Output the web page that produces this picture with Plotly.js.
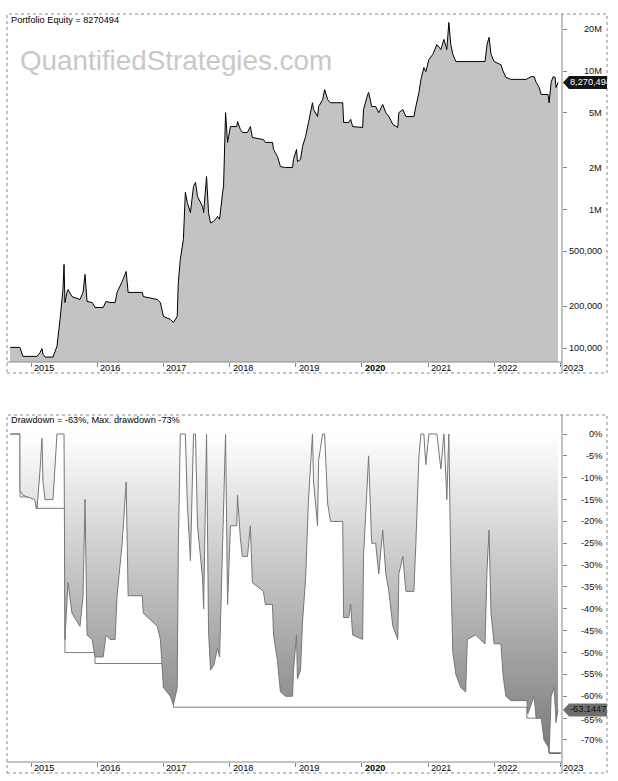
<!DOCTYPE html>
<html><head><meta charset="utf-8">
<script src="https://cdn.plot.ly/plotly-3.0.1.min.js"></script>
<style>html,body{margin:0;padding:0;background:#fff;overflow:hidden}#chart{width:618px;height:781px}</style>
</head><body><div id="chart"></div>
<script>
// ---------- data ----------
const equityDates = ['2014-09-07','2014-10-31','2014-11-17','2015-02-03','2015-02-20','2015-03-02','2015-03-08','2015-03-19','2015-05-02','2015-05-13','2015-05-24','2015-06-10','2015-06-26','2015-07-02','2015-07-07','2015-07-18','2015-07-24','2015-08-15','2015-09-28','2015-10-15','2015-10-26','2015-11-06','2015-12-04','2015-12-20','2016-02-03','2016-02-19','2016-03-12','2016-04-09','2016-04-20','2016-05-18','2016-06-09','2016-06-20','2016-09-06','2016-09-12','2016-11-28','2016-12-15','2017-01-01','2017-02-08','2017-02-25','2017-03-18','2017-03-24','2017-04-04','2017-04-21','2017-05-02','2017-05-13','2017-05-30','2017-06-16','2017-06-27','2017-07-08','2017-08-05','2017-08-11','2017-08-27','2017-09-07','2017-09-18','2017-10-05','2017-10-27','2017-11-07','2017-11-24','2017-11-29','2017-12-10','2017-12-21','2018-01-06','2018-02-10','2018-02-14','2018-03-02','2018-03-13','2018-04-10','2018-04-26','2018-05-07','2018-07-07','2018-07-18','2018-08-26','2018-09-01','2018-09-23','2018-10-09','2018-11-06','2018-12-15','2018-12-20','2019-01-06','2019-01-11','2019-01-28','2019-02-08','2019-02-25','2019-03-13','2019-04-04','2019-04-10','2019-05-02','2019-05-08','2019-05-30','2019-06-10','2019-06-27','2019-07-13','2019-09-18','2019-09-23','2019-10-21','2019-11-01','2019-11-12','2020-01-06','2020-01-11','2020-02-03','2020-02-08','2020-02-25','2020-03-18','2020-04-04','2020-04-26','2020-05-13','2020-05-30','2020-06-21','2020-07-18','2020-07-24','2020-08-15','2020-09-01','2020-10-15','2020-10-26','2020-11-12','2020-11-23','2020-12-09','2020-12-20','2021-01-06','2021-01-28','2021-02-19','2021-03-13','2021-03-30','2021-04-15','2021-04-26','2021-05-07','2021-05-18','2021-06-04','2021-11-12','2021-11-23','2021-12-04','2021-12-15','2022-01-01','2022-02-08','2022-02-19','2022-03-07','2022-04-04','2022-06-27','2022-07-24','2022-08-10','2022-08-21','2022-09-07','2022-09-18','2022-10-26','2022-11-01','2022-11-12','2022-11-23','2022-12-04','2022-12-09','2022-12-20'];
const equityValues = [101000,101000,87000,87000,93000,99000,90000,86000,86000,95000,103000,161000,264000,401000,213000,252000,264000,235000,224000,252000,340000,217000,213000,196000,196000,217000,213000,213000,252000,302000,357000,252000,252000,235000,224000,213000,169000,161000,153000,169000,297000,435000,607000,1330000,1120000,950000,1470000,1570000,1240000,1050000,950000,1730000,950000,800000,820000,890000,850000,1330000,1470000,5000000,3050000,3970000,3970000,4320000,3780000,3600000,3600000,3970000,3310000,3200000,3050000,3050000,2710000,2410000,2040000,2010000,2010000,2300000,2710000,2220000,2300000,2850000,3370000,4250000,5900000,5270000,4690000,5540000,6200000,7350000,6200000,5900000,5900000,4250000,4250000,4470000,3970000,3910000,5270000,6770000,7000000,5540000,5540000,5000000,5730000,5000000,4690000,4110000,3910000,5000000,5270000,4690000,4690000,5540000,7000000,8700000,10600000,9900000,12100000,13200000,15500000,14300000,16900000,14300000,22400000,15500000,13200000,11700000,11700000,15500000,17500000,13200000,11700000,11100000,10000000,9000000,8700000,8700000,9100000,9100000,8300000,7600000,6770000,6770000,5900000,8300000,9100000,9000000,7600000,8270494];

const ddDates = ['2014-09-07','2014-10-31','2014-11-01','2014-11-17','2015-01-20','2015-02-03','2015-02-20','2015-03-02','2015-03-08','2015-03-19','2015-05-02','2015-05-13','2015-05-24','2015-06-10','2015-06-26','2015-07-02','2015-07-07','2015-07-18','2015-07-24','2015-08-15','2015-09-28','2015-10-15','2015-10-26','2015-11-06','2015-12-04','2015-12-20','2016-02-03','2016-02-19','2016-03-12','2016-04-09','2016-04-20','2016-05-18','2016-06-09','2016-06-20','2016-09-06','2016-09-12','2016-11-28','2016-12-15','2017-01-01','2017-02-08','2017-02-25','2017-03-18','2017-03-24','2017-04-04','2017-04-21','2017-05-02','2017-05-13','2017-05-30','2017-06-16','2017-06-27','2017-07-08','2017-08-05','2017-08-11','2017-08-27','2017-09-07','2017-09-18','2017-10-05','2017-10-27','2017-11-07','2017-11-24','2017-11-29','2017-12-10','2017-12-21','2018-01-06','2018-02-10','2018-02-14','2018-03-02','2018-03-13','2018-04-10','2018-04-26','2018-05-07','2018-07-07','2018-07-18','2018-08-26','2018-09-01','2018-09-23','2018-10-09','2018-11-06','2018-12-15','2018-12-20','2019-01-06','2019-01-11','2019-01-28','2019-02-08','2019-02-25','2019-03-13','2019-04-04','2019-04-10','2019-05-02','2019-05-08','2019-05-30','2019-06-10','2019-06-27','2019-07-13','2019-09-18','2019-09-23','2019-10-21','2019-11-01','2019-11-12','2020-01-06','2020-01-11','2020-02-03','2020-02-08','2020-02-25','2020-03-18','2020-04-04','2020-04-26','2020-05-13','2020-05-30','2020-06-21','2020-07-18','2020-07-24','2020-08-15','2020-09-01','2020-10-15','2020-10-26','2020-11-12','2020-11-23','2020-12-09','2020-12-20','2021-01-06','2021-01-28','2021-02-19','2021-03-13','2021-03-30','2021-04-15','2021-04-26','2021-05-07','2021-05-18','2021-06-04','2021-07-01','2021-07-28','2021-08-06','2021-09-20','2021-11-12','2021-11-23','2021-12-04','2021-12-15','2022-01-01','2022-02-08','2022-02-19','2022-03-07','2022-04-04','2022-07-01','2022-07-06','2022-08-10','2022-08-21','2022-09-18','2022-10-04','2022-10-26','2022-11-01','2022-11-12','2022-11-29','2022-12-09','2022-12-20'];
const ddValues = [0,0,-13,-14,-15,-17,-8,-1,-11,-15,-15,-6,0,0,0,0,-47,-37,-34,-41,-44,-37,-15,-46,-47,-51,-51,-46,-47,-47,-37,-25,-11,-37,-37,-41,-44,-47,-58,-60,-62,-58,-26,0,0,0,-16,-29,0,0,-21,-33,-40,0,-45,-54,-53,-49,-51,-23,-15,0,-39,-21,-21,-14,-24,-28,-28,-21,-34,-36,-39,-39,-46,-52,-59,-60,-60,-54,-46,-56,-54,-43,-33,-15,0,-11,-21,-6,0,0,-16,-20,-20,-42,-42,-39,-46,-47,-28,-8,-5,-25,-25,-32,-22,-32,-36,-44,-47,-32,-28,-36,-36,-25,-5,0,0,-7,0,0,0,-8,0,-15,0,-31,-50,-55,-58,-59,-47,-46,-48,-31,-22,-41,-48,-48,-55,-60,-61,-61,-64,-60,-65,-65,-70,-71.5,-73,-60,-58,-66,-63.1447];

const maxDdDates = ['2014-09-07','2014-11-01','2015-01-28','2015-07-07','2015-12-20','2017-01-01','2017-02-08','2017-02-25','2022-07-01','2022-10-04','2022-11-01'];
const maxDdValues = [0,-14.4,-17,-50,-52.5,-58,-60,-62.5,-65,-70,-70];
const maxDdTailDates = ['2022-11-01','2023-01-05'];
const maxDdTailValues = [-73,-73];

const yearTicks  = ['2015-01-01','2016-01-01','2017-01-01','2018-01-01','2019-01-01','2020-01-01','2021-01-01','2022-01-01','2023-01-01'];
const yearLabels = ['2015','2016','2017','2018','2019','<b>2020</b>','2021','2022','2023'];
const equityTickVals = [100000,200000,500000,1000000,2000000,5000000,10000000,20000000];
const equityTickText = ['100,000','200,000','500,000','1M','2M','5M','10M','20M'];
const ddTickVals = [0,-5,-10,-15,-20,-25,-30,-35,-40,-45,-50,-55,-60,-65,-70];
const ddTickText = ['0%','-5%','-10%','-15%','-20%','-25%','-30%','-35%','-40%','-45%','-50%','-55%','-60%','-65%','-70%'];
const lastEquity = 8270494;
const lastDd = -63.1447;
const titleTop = 'Portfolio Equity = 8270494';
const titleBottom = 'Drawdown = -63%, Max. drawdown -73%';
const watermark = 'QuantifiedStrategies.com';

// ---------- geometry ----------
const PL = 7, PR = 562, PT = 14, PB = 762;
const PW = PR - PL, PH = PB - PT;
const px = p => (p - PL) / PW;
const py = p => (PB - p) / PH;
const topDom = [py(362), py(14)];
const botDom = [0, py(415)];
const eqRange = [4.899, 7.4116];
const ddRange = [-75.04, 4.35];
const xRange = ['2014-08-21', '2023-01-11'];
const FONT = 'Liberation Sans, Arial, sans-serif';
const fs = 9.2;

const eqTagPx = PT + (eqRange[1] - Math.log10(lastEquity)) / (eqRange[1] - eqRange[0]) * (362 - 14);
const ddTagPx = 415 + (ddRange[1] - lastDd) / (ddRange[1] - ddRange[0]) * (762 - 415);
function tagPath(yc) {
  const h = 6.5;
  return 'M' + px(563) + ',' + py(yc) + ' L' + px(569) + ',' + py(yc - h) + ' L' + px(607) + ',' + py(yc - h) +
         ' L' + px(607) + ',' + py(yc + h) + ' L' + px(569) + ',' + py(yc + h) + ' Z';
}

const traces = [
  {x: [equityDates[0], equityDates[equityDates.length - 1]], y: [10000, 10000], xaxis: 'x', yaxis: 'y',
   mode: 'lines', line: {width: 0, color: 'rgba(0,0,0,0)'}, hoverinfo: 'skip'},
  {x: equityDates, y: equityValues, xaxis: 'x', yaxis: 'y', mode: 'lines',
   line: {color: '#000', width: 1}, fill: 'tonexty', fillcolor: '#c3c3c3'},
  {x: maxDdDates, y: maxDdValues, xaxis: 'x2', yaxis: 'y2', mode: 'lines',
   line: {color: '#7a7a7a', width: 1, shape: 'hv'}},
  {x: maxDdTailDates, y: maxDdTailValues, xaxis: 'x2', yaxis: 'y2', mode: 'lines',
   line: {color: '#000', width: 1}},
  {x: ddDates, y: ddValues, xaxis: 'x2', yaxis: 'y2', mode: 'lines',
   line: {color: '#777', width: 1}, fill: 'tozeroy',
   fillgradient: {type: 'vertical', start: -75, stop: 0, colorscale: [[0, '#767676'], [1, '#ffffff']]}}
];

const annotations = [];
function addYearLabels(yPaper, xref) {
  yearTicks.forEach((d, i) => annotations.push({
    x: d, xref: xref, y: yPaper, yref: 'paper', text: yearLabels[i], showarrow: false,
    xanchor: 'left', yanchor: 'middle', xshift: 1, font: {family: FONT, size: fs, color: '#000'}}));
}
addYearLabels(py(368), 'x');
addYearLabels(py(768), 'x2');
equityTickVals.forEach((v, i) => annotations.push({
  x: px(604), xref: 'paper', y: Math.log10(v), yref: 'y', text: equityTickText[i], showarrow: false,
  xanchor: 'right', yanchor: 'middle', font: {family: FONT, size: fs, color: '#111'}}));
ddTickVals.forEach((v, i) => annotations.push({
  x: px(604), xref: 'paper', y: v, yref: 'y2', text: ddTickText[i], showarrow: false,
  xanchor: 'right', yanchor: 'middle', yshift: v === -65 ? -1.5 : 0, font: {family: FONT, size: fs, color: '#111'}}));
annotations.push({x: px(9), xref: 'paper', y: py(20), yref: 'paper', text: titleTop, showarrow: false,
  xanchor: 'left', yanchor: 'middle', font: {family: FONT, size: fs, color: '#000'}});
annotations.push({x: px(9), xref: 'paper', y: py(420), yref: 'paper', text: titleBottom, showarrow: false,
  xanchor: 'left', yanchor: 'middle', font: {family: FONT, size: fs, color: '#000'}});
annotations.push({x: px(18), xref: 'paper', y: py(60), yref: 'paper', text: watermark, showarrow: false,
  xanchor: 'left', yanchor: 'middle', font: {family: FONT, size: 27.8, color: '#c8c8c8'}});
annotations.push({x: px(568), xref: 'paper', y: py(eqTagPx), yref: 'paper', text: lastEquity.toLocaleString('en-US'),
  showarrow: false, xanchor: 'left', yanchor: 'middle', font: {family: FONT, size: fs, color: '#fff'}});
annotations.push({x: px(568), xref: 'paper', y: py(ddTagPx), yref: 'paper', text: String(lastDd),
  showarrow: false, xanchor: 'left', yanchor: 'middle', yshift: 1.5, font: {family: FONT, size: fs, color: '#111'}});

const frameLine = {color: '#8a8a8a', width: 1, dash: 'dot'};
const solidLine = {color: '#8a8a8a', width: 1};
const shapes = [
  {type: 'rect', xref: 'paper', yref: 'paper', x0: px(7), x1: px(607), y0: py(373), y1: py(14), line: frameLine},
  {type: 'line', xref: 'paper', yref: 'paper', x0: px(562), x1: px(562), y0: py(373), y1: py(14), line: solidLine},
  {type: 'line', xref: 'paper', yref: 'paper', x0: px(7), x1: px(562), y0: py(362), y1: py(362), line: solidLine},
  {type: 'rect', xref: 'paper', yref: 'paper', x0: px(7), x1: px(607), y0: py(773), y1: py(415), line: frameLine},
  {type: 'line', xref: 'paper', yref: 'paper', x0: px(562), x1: px(562), y0: py(773), y1: py(415), line: solidLine},
  {type: 'line', xref: 'paper', yref: 'paper', x0: px(7), x1: px(562), y0: py(762), y1: py(762), line: solidLine},
  {type: 'path', xref: 'paper', yref: 'paper', path: tagPath(eqTagPx), fillcolor: '#141414', line: {width: 0}},
  {type: 'path', xref: 'paper', yref: 'paper', path: tagPath(ddTagPx), fillcolor: '#6e6e6e', line: {width: 0}}
];

const xCommon = {type: 'date', range: xRange, showgrid: false, zeroline: false, showline: false,
  ticks: 'outside', ticklen: 4, tickcolor: '#888', tickmode: 'array', tickvals: yearTicks, showticklabels: false, fixedrange: true};
const yCommon = {side: 'right', showgrid: false, zeroline: false, showline: false, ticks: 'outside', ticklen: 4,
  tickcolor: '#888', tickmode: 'array', showticklabels: false, fixedrange: true};

const layout = {
  width: 618, height: 781, margin: {l: PL, r: 618 - PR, t: PT, b: 781 - PB, pad: 0},
  paper_bgcolor: '#fff', plot_bgcolor: '#fff', showlegend: false,
  xaxis: Object.assign({}, xCommon, {anchor: 'y'}),
  yaxis: Object.assign({}, yCommon, {type: 'log', range: eqRange, domain: topDom, anchor: 'x', tickvals: equityTickVals}),
  xaxis2: Object.assign({}, xCommon, {anchor: 'y2'}),
  yaxis2: Object.assign({}, yCommon, {range: ddRange, domain: botDom, anchor: 'x2', tickvals: ddTickVals}),
  annotations: annotations, shapes: shapes
};
Plotly.newPlot('chart', traces, layout, {displayModeBar: false, staticPlot: true});
</script></body></html>
